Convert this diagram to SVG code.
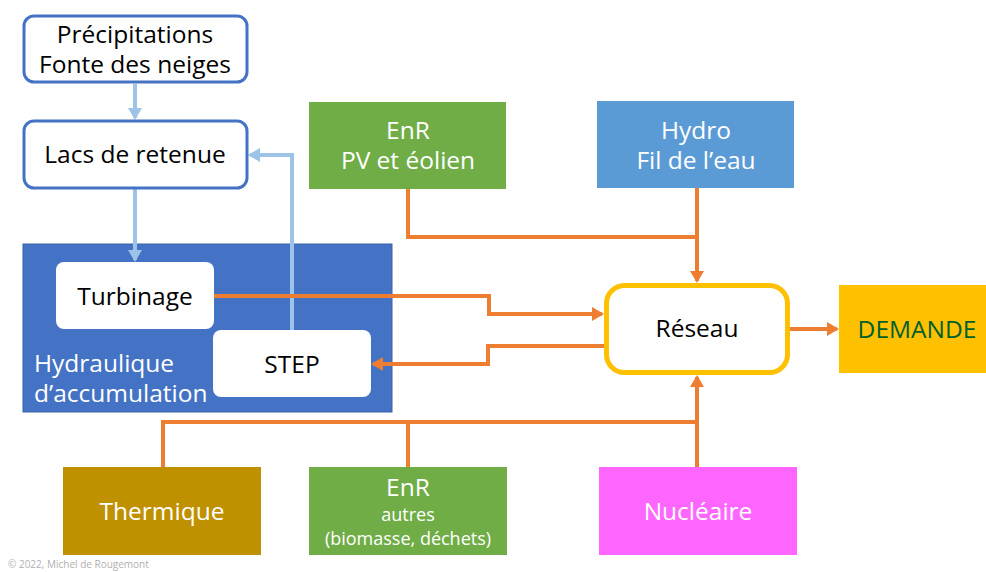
<svg xmlns="http://www.w3.org/2000/svg" width="986" height="572" viewBox="0 0 986 572">
<style>
.t{font-family:"Open Sans","Noto Sans","Liberation Sans",sans-serif;font-size:24.5px;text-anchor:middle}
.s{font-size:18px}
.k{fill:#000}
.w{fill:#fff}
.o{fill:none;stroke:#ED7D31;stroke-width:4}
.b{fill:none;stroke:#9DC3E6;stroke-width:4}
</style>
<defs>
<marker id="ao" markerWidth="13" markerHeight="14" refX="10" refY="7" orient="auto" markerUnits="userSpaceOnUse"><path d="M0,0 L12,7 L0,14 Z" fill="#ED7D31"/></marker>
<marker id="ab" markerWidth="13" markerHeight="14" refX="10" refY="7" orient="auto" markerUnits="userSpaceOnUse"><path d="M0,0 L12,7 L0,14 Z" fill="#9DC3E6"/></marker>
</defs>
<rect width="986" height="572" fill="#fff"/>
<g id="hydraulique">
<rect x="23" y="244" width="369" height="168" fill="#4472C4" stroke="#3A62A8" stroke-width="1"/>
<text class="t w" x="34" y="372" style="text-anchor:start">Hydraulique</text>
<text class="t w" x="34" y="402" style="text-anchor:start">d’accumulation</text>
</g>
<g id="connectors">
<path class="b" d="M135,84 V118" marker-end="url(#ab)"/>
<path class="b" d="M135,189 V260" marker-end="url(#ab)"/>
<path class="b" d="M292,331 V155 H250" marker-end="url(#ab)"/>
<path class="o" d="M214,296 H489 V314 H602" marker-end="url(#ao)"/>
<path class="o" d="M604,346 H488 V364 H373" marker-end="url(#ao)"/>
<path class="o" d="M408,189 V237 H697"/>
<path class="o" d="M697,188 V281" marker-end="url(#ao)"/>
<path class="o" d="M790,329 H837" marker-end="url(#ao)"/>
<path class="o" d="M163,467 V422 H697"/>
<path class="o" d="M408,467 V422"/>
<path class="o" d="M697,467 V377" marker-end="url(#ao)"/>
</g>
<g id="precipitations">
<rect x="24" y="16" width="223" height="66" rx="10" fill="#fff" stroke="#4472C4" stroke-width="3"/>
<text class="t k" x="135" y="43">Précipitations</text>
<text class="t k" x="135" y="73">Fonte des neiges</text>
</g>
<g id="lacs">
<rect x="24" y="121" width="223" height="67" rx="10" fill="#fff" stroke="#4472C4" stroke-width="3"/>
<text class="t k" x="135" y="163">Lacs de retenue</text>
</g>
<g id="turbinage">
<rect x="56" y="262" width="158" height="67" rx="8" fill="#fff"/>
<text class="t k" x="135" y="305">Turbinage</text>
</g>
<g id="step">
<rect x="213" y="330" width="158" height="67" rx="8" fill="#fff"/>
<text class="t k" x="292" y="373">STEP</text>
</g>
<g id="enr-pv">
<rect x="309" y="102" width="197" height="87" fill="#70AD47"/>
<text class="t w" x="408" y="139">EnR</text>
<text class="t w" x="408" y="169">PV et éolien</text>
</g>
<g id="hydro">
<rect x="597" y="101" width="197" height="87" fill="#5B9BD5"/>
<text class="t w" x="696" y="139">Hydro</text>
<text class="t w" x="696" y="169">Fil de l’eau</text>
</g>
<g id="reseau">
<rect x="606.5" y="285.5" width="181" height="87" rx="18" fill="#fff" stroke="#FFC000" stroke-width="5"/>
<text class="t k" x="697" y="337">Réseau</text>
</g>
<g id="demande">
<rect x="839" y="285" width="147" height="88" fill="#FFC000"/>
<text class="t" x="917" y="338" fill="#00602B">DEMANDE</text>
</g>
<g id="thermique">
<rect x="63" y="467" width="198" height="88" fill="#BF9000"/>
<text class="t w" x="162" y="520">Thermique</text>
</g>
<g id="enr-autres">
<rect x="309" y="467" width="198" height="88" fill="#70AD47"/>
<text class="t w" x="408" y="496">EnR</text>
<text class="t w s" x="408" y="521">autres</text>
<text class="t w s" x="408" y="545">(biomasse, déchets)</text>
</g>
<g id="nucleaire">
<rect x="599" y="467" width="198" height="88" fill="#FF66FF"/>
<text class="t w" x="698" y="520">Nucléaire</text>
</g>
<text x="8" y="568" style="font-family:'Open Sans','Liberation Sans',sans-serif;font-size:10px" fill="#B0B0B0">© 2022, Michel de Rougemont</text>
</svg>
